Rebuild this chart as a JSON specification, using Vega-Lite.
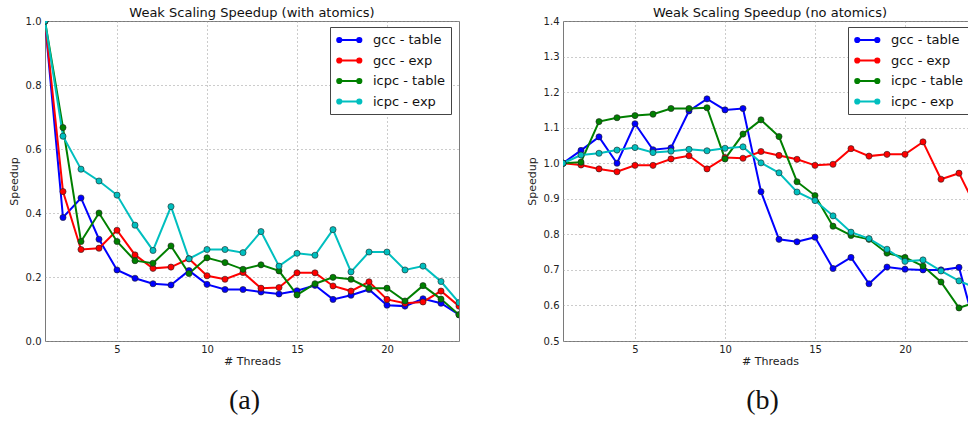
{
  "$schema": "https://vega.github.io/schema/vega-lite/v6.json",
  "padding": {"left": 7, "top": 6, "right": -9, "bottom": 0},
  "background": "white",
  "config": {
    "font": "DejaVu Sans",
    "title": {"fontSize": 13, "fontWeight": "normal", "color": "#111", "offset": -4},
    "view": {"stroke": "#7a7a7a"},
    "axis": {
      "labelFont": "DejaVu Sans", "labelFontSize": 10, "labelColor": "#222",
      "titleFont": "DejaVu Sans", "titleFontSize": 11, "titleFontWeight": "normal", "titleColor": "#222",
      "domain": false, "ticks": false, "labelPadding": 4,
      "grid": true, "gridColor": "#999", "gridDash": [1, 3], "gridWidth": 1, "gridOpacity": 1
    },
    "axisX": {"labelPadding": 3, "titlePadding": 1},
    "axisY": {"labelPadding": 4, "titlePadding": 6},
    "legend": {
      "labelFont": "DejaVu Sans", "labelFontSize": 13, "labelColor": "#111",
      "strokeColor": "#444", "fillColor": "white", "padding": 5, "cornerRadius": 0,
      "rowPadding": 5.5, "labelOffset": 22
    }
  },
  "datasets": {
    "a": [
      {"t": 1, "gcc - table": 1.0, "gcc - exp": 1.0, "icpc - table": 1.0, "icpc - exp": 1.0},
      {"t": 2, "gcc - table": 0.386, "gcc - exp": 0.467, "icpc - table": 0.667, "icpc - exp": 0.640},
      {"t": 3, "gcc - table": 0.447, "gcc - exp": 0.286, "icpc - table": 0.311, "icpc - exp": 0.537},
      {"t": 4, "gcc - table": 0.318, "gcc - exp": 0.290, "icpc - table": 0.400, "icpc - exp": 0.500},
      {"t": 5, "gcc - table": 0.222, "gcc - exp": 0.346, "icpc - table": 0.311, "icpc - exp": 0.456},
      {"t": 6, "gcc - table": 0.196, "gcc - exp": 0.269, "icpc - table": 0.251, "icpc - exp": 0.362},
      {"t": 7, "gcc - table": 0.179, "gcc - exp": 0.227, "icpc - table": 0.243, "icpc - exp": 0.283},
      {"t": 8, "gcc - table": 0.175, "gcc - exp": 0.231, "icpc - table": 0.297, "icpc - exp": 0.420},
      {"t": 9, "gcc - table": 0.220, "gcc - exp": 0.257, "icpc - table": 0.211, "icpc - exp": 0.257},
      {"t": 10, "gcc - table": 0.177, "gcc - exp": 0.204, "icpc - table": 0.260, "icpc - exp": 0.286},
      {"t": 11, "gcc - table": 0.161, "gcc - exp": 0.193, "icpc - table": 0.245, "icpc - exp": 0.286},
      {"t": 12, "gcc - table": 0.161, "gcc - exp": 0.214, "icpc - table": 0.224, "icpc - exp": 0.276},
      {"t": 13, "gcc - table": 0.153, "gcc - exp": 0.165, "icpc - table": 0.238, "icpc - exp": 0.342},
      {"t": 14, "gcc - table": 0.147, "gcc - exp": 0.167, "icpc - table": 0.219, "icpc - exp": 0.234},
      {"t": 15, "gcc - table": 0.157, "gcc - exp": 0.213, "icpc - table": 0.144, "icpc - exp": 0.274},
      {"t": 16, "gcc - table": 0.174, "gcc - exp": 0.213, "icpc - table": 0.179, "icpc - exp": 0.268},
      {"t": 17, "gcc - table": 0.130, "gcc - exp": 0.172, "icpc - table": 0.199, "icpc - exp": 0.348},
      {"t": 18, "gcc - table": 0.143, "gcc - exp": 0.156, "icpc - table": 0.193, "icpc - exp": 0.216},
      {"t": 19, "gcc - table": 0.161, "gcc - exp": 0.185, "icpc - table": 0.165, "icpc - exp": 0.278},
      {"t": 20, "gcc - table": 0.112, "gcc - exp": 0.130, "icpc - table": 0.165, "icpc - exp": 0.278},
      {"t": 21, "gcc - table": 0.109, "gcc - exp": 0.118, "icpc - table": 0.125, "icpc - exp": 0.222},
      {"t": 22, "gcc - table": 0.132, "gcc - exp": 0.122, "icpc - table": 0.173, "icpc - exp": 0.234},
      {"t": 23, "gcc - table": 0.118, "gcc - exp": 0.156, "icpc - table": 0.131, "icpc - exp": 0.186},
      {"t": 24, "gcc - table": 0.082, "gcc - exp": 0.109, "icpc - table": 0.082, "icpc - exp": 0.120}
    ],
    "b": [
      {"t": 1, "gcc - table": 1.0, "gcc - exp": 1.0, "icpc - table": 1.0, "icpc - exp": 1.0},
      {"t": 2, "gcc - table": 1.036, "gcc - exp": 0.995, "icpc - table": 1.003, "icpc - exp": 1.023},
      {"t": 3, "gcc - table": 1.074, "gcc - exp": 0.984, "icpc - table": 1.117, "icpc - exp": 1.028},
      {"t": 4, "gcc - table": 1.0, "gcc - exp": 0.976, "icpc - table": 1.128, "icpc - exp": 1.037},
      {"t": 5, "gcc - table": 1.111, "gcc - exp": 0.994, "icpc - table": 1.134, "icpc - exp": 1.044},
      {"t": 6, "gcc - table": 1.038, "gcc - exp": 0.994, "icpc - table": 1.138, "icpc - exp": 1.030},
      {"t": 7, "gcc - table": 1.043, "gcc - exp": 1.012, "icpc - table": 1.154, "icpc - exp": 1.034},
      {"t": 8, "gcc - table": 1.147, "gcc - exp": 1.021, "icpc - table": 1.154, "icpc - exp": 1.039},
      {"t": 9, "gcc - table": 1.181, "gcc - exp": 0.984, "icpc - table": 1.156, "icpc - exp": 1.035},
      {"t": 10, "gcc - table": 1.150, "gcc - exp": 1.016, "icpc - table": 1.012, "icpc - exp": 1.042},
      {"t": 11, "gcc - table": 1.154, "gcc - exp": 1.014, "icpc - table": 1.082, "icpc - exp": 1.046},
      {"t": 12, "gcc - table": 0.920, "gcc - exp": 1.033, "icpc - table": 1.122, "icpc - exp": 1.001},
      {"t": 13, "gcc - table": 0.786, "gcc - exp": 1.022, "icpc - table": 1.075, "icpc - exp": 0.973},
      {"t": 14, "gcc - table": 0.779, "gcc - exp": 1.011, "icpc - table": 0.948, "icpc - exp": 0.919},
      {"t": 15, "gcc - table": 0.792, "gcc - exp": 0.994, "icpc - table": 0.909, "icpc - exp": 0.895},
      {"t": 16, "gcc - table": 0.704, "gcc - exp": 0.997, "icpc - table": 0.823, "icpc - exp": 0.852},
      {"t": 17, "gcc - table": 0.735, "gcc - exp": 1.041, "icpc - table": 0.797, "icpc - exp": 0.806},
      {"t": 18, "gcc - table": 0.661, "gcc - exp": 1.020, "icpc - table": 0.786, "icpc - exp": 0.788},
      {"t": 19, "gcc - table": 0.708, "gcc - exp": 1.025, "icpc - table": 0.747, "icpc - exp": 0.758},
      {"t": 20, "gcc - table": 0.702, "gcc - exp": 1.025, "icpc - table": 0.735, "icpc - exp": 0.724},
      {"t": 21, "gcc - table": 0.700, "gcc - exp": 1.060, "icpc - table": 0.711, "icpc - exp": 0.728},
      {"t": 22, "gcc - table": 0.700, "gcc - exp": 0.955, "icpc - table": 0.666, "icpc - exp": 0.697},
      {"t": 23, "gcc - table": 0.707, "gcc - exp": 0.972, "icpc - table": 0.593, "icpc - exp": 0.669},
      {"t": 24, "gcc - table": 0.52, "gcc - exp": 0.87, "icpc - table": 0.61, "icpc - exp": 0.648}
    ]
  },
  "resolve": {"scale": {"color": "independent", "x": "independent", "y": "independent"}, "legend": {"color": "independent"}},
  "spacing": 65,
  "hconcat": [
    {
      "title": {"text": "(a)", "orient": "bottom", "font": "Liberation Serif", "fontSize": 28, "fontWeight": "normal", "color": "#111", "offset": 20, "anchor": "middle", "dx": 11},
      "vconcat": [
        {
          "title": "Weak Scaling Speedup (with atomics)",
          "width": 414, "height": 320,
          "data": {"name": "a"},
          "transform": [{"fold": ["gcc - table", "gcc - exp", "icpc - table", "icpc - exp"], "as": ["s", "v"]}],
          "encoding": {
            "x": {"field": "t", "type": "quantitative", "scale": {"domain": [1, 24], "nice": false, "zero": false},
                  "axis": {"values": [5, 10, 15, 20], "title": "# Threads"}},
            "y": {"field": "v", "type": "quantitative", "scale": {"domain": [0, 1], "nice": false},
                  "axis": {"values": [0, 0.2, 0.4, 0.6, 0.8, 1.0], "format": ".1f", "title": "Speedup"}},
            "color": {"field": "s", "type": "nominal",
                      "scale": {"domain": ["gcc - table", "gcc - exp", "icpc - table", "icpc - exp"], "range": ["#0000ff", "#ff0000", "#008000", "#00bfbf"]},
                      "legend": {"title": null, "orient": "none", "legendX": 285, "legendY": 6,
                                 "labelExpr": "datum.label + ' '",
                                 "symbolType": "M-0.53,0H2.33M-0.83,0A0.3,0.3,0,1,0,-0.23,0A0.3,0.3,0,1,0,-0.83,0ZM2.03,0A0.3,0.3,0,1,0,2.63,0A0.3,0.3,0,1,0,2.03,0Z",
                                 "symbolSize": 196, "symbolStrokeWidth": 2}}
          },
          "layer": [
            {"mark": {"type": "line", "strokeWidth": 2, "clip": true}},
            {"mark": {"type": "point", "filled": true, "size": 38, "stroke": "#222", "strokeWidth": 0.6, "opacity": 1, "clip": true}}
          ]
        }
      ]
    },
    {
      "title": {"text": "(b)", "orient": "bottom", "font": "Liberation Serif", "fontSize": 28, "fontWeight": "normal", "color": "#111", "offset": 20, "anchor": "middle", "dx": 11},
      "vconcat": [
        {
          "title": "Weak Scaling Speedup (no atomics)",
          "width": 414, "height": 320,
          "data": {"name": "b"},
          "transform": [{"fold": ["gcc - table", "gcc - exp", "icpc - table", "icpc - exp"], "as": ["s", "v"]}],
          "encoding": {
            "x": {"field": "t", "type": "quantitative", "scale": {"domain": [1, 24], "nice": false, "zero": false},
                  "axis": {"values": [5, 10, 15, 20], "title": "# Threads"}},
            "y": {"field": "v", "type": "quantitative", "scale": {"domain": [0.5, 1.4], "nice": false, "zero": false},
                  "axis": {"values": [0.5, 0.6, 0.7, 0.8, 0.9, 1.0, 1.1, 1.2, 1.3, 1.4], "format": ".1f", "title": "Speedup"}},
            "color": {"field": "s", "type": "nominal",
                      "scale": {"domain": ["gcc - table", "gcc - exp", "icpc - table", "icpc - exp"], "range": ["#0000ff", "#ff0000", "#008000", "#00bfbf"]},
                      "legend": {"title": null, "orient": "none", "legendX": 285, "legendY": 6,
                                 "labelExpr": "datum.label + ' '",
                                 "symbolType": "M-0.53,0H2.33M-0.83,0A0.3,0.3,0,1,0,-0.23,0A0.3,0.3,0,1,0,-0.83,0ZM2.03,0A0.3,0.3,0,1,0,2.63,0A0.3,0.3,0,1,0,2.03,0Z",
                                 "symbolSize": 196, "symbolStrokeWidth": 2}}
          },
          "layer": [
            {"mark": {"type": "line", "strokeWidth": 2, "clip": true}},
            {"mark": {"type": "point", "filled": true, "size": 38, "stroke": "#222", "strokeWidth": 0.6, "opacity": 1, "clip": true}}
          ]
        }
      ]
    }
  ]
}
